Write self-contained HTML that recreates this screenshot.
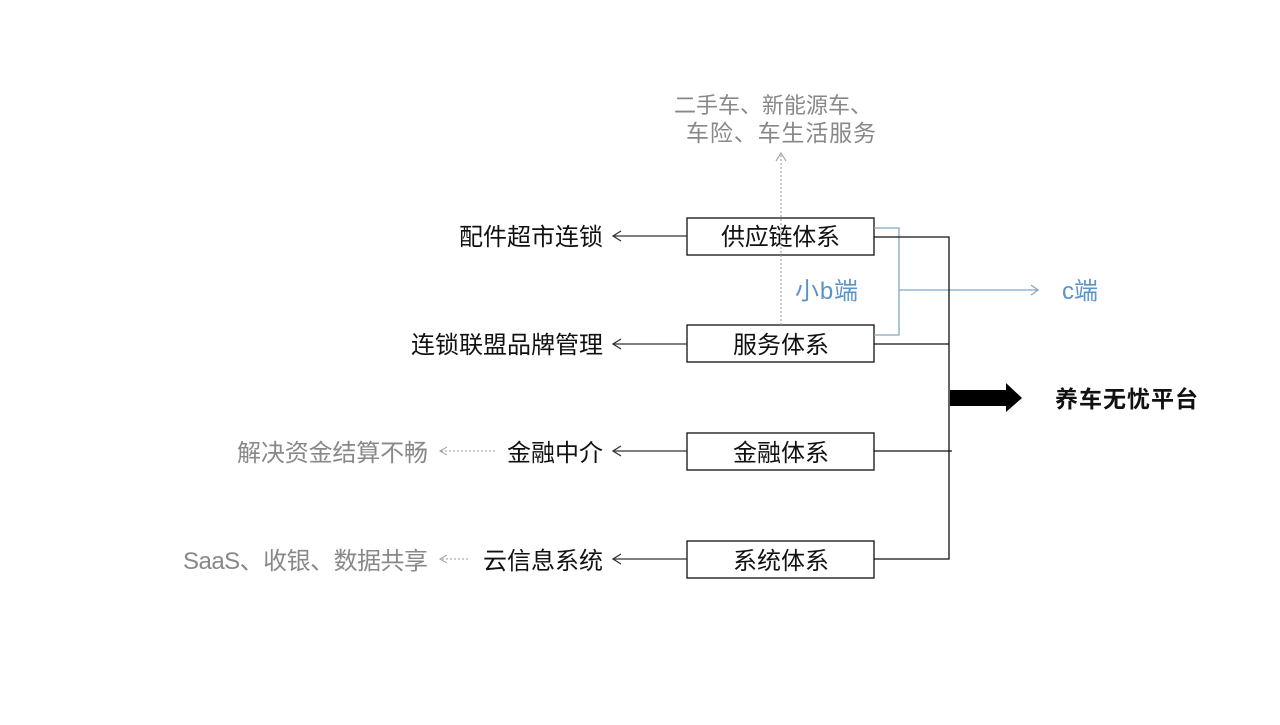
<!DOCTYPE html>
<html><head><meta charset="utf-8"><style>
body{margin:0;background:#fff;}
svg text{font-family:"Liberation Sans","Noto Sans CJK SC",sans-serif;}
</style></head><body>
<svg width="1280" height="720" viewBox="0 0 1280 720" xmlns="http://www.w3.org/2000/svg">
<rect width="1280" height="720" fill="#fff"/>
<g fill="#fff" stroke="#111" stroke-width="1.3">
<rect x="687" y="218" width="187" height="37"/>
<rect x="687" y="325" width="187" height="37"/>
<rect x="687" y="433" width="187" height="37"/>
<rect x="687" y="541" width="187" height="37"/>
</g>
<g font-size="24" fill="#111">
<text x="721" y="245" textLength="119">供应链体系</text>
<text x="733" y="353" textLength="96">服务体系</text>
<text x="733" y="461" textLength="96">金融体系</text>
<text x="733" y="569" textLength="96">系统体系</text>
</g>
<line x1="781" y1="325" x2="781" y2="153" stroke="#999" stroke-width="1" stroke-dasharray="2,2"/>
<polyline points="776,161 781,153 786,161" fill="none" stroke="#999" stroke-width="1"/>
<g fill="#888">
<text x="674" y="113" font-size="22">二手车、新能源车、</text>
<text x="686" y="141" font-size="23" textLength="190">车险、车生活服务</text>
</g>
<polyline points="874,228 899,228 899,335 874,335" fill="none" stroke="#7fa6c8" stroke-width="1.3"/>
<line x1="899" y1="290" x2="1037" y2="290" stroke="#7fa6c8" stroke-width="1.3"/>
<polyline points="1031,285 1038,290 1031,295" fill="none" stroke="#7fa6c8" stroke-width="1.2"/>
<text x="795" y="299" font-size="24" fill="#5b93c6" textLength="63">小b端</text>
<text x="1062" y="299" font-size="24" fill="#5b93c6" textLength="36">c端</text>
<g stroke="#111" stroke-width="1.3" fill="none">
<polyline points="874,237 949,237 949,559 874,559"/>
<line x1="874" y1="344" x2="949" y2="344"/>
<line x1="874" y1="451" x2="952" y2="451"/>
</g>
<polygon points="950,390 1006,390 1006,383 1022,398 1006,412 1006,406 950,406" fill="#000"/>
<text x="1055" y="407" font-size="23" font-weight="bold" fill="#111" textLength="143">养车无忧平台</text>
<g stroke="#333" stroke-width="1.3" fill="none">
<line x1="687" y1="236" x2="613" y2="236"/><polyline points="621,231 613,236 621,241"/>
<line x1="687" y1="344" x2="613" y2="344"/><polyline points="621,339 613,344 621,349"/>
<line x1="687" y1="451" x2="613" y2="451"/><polyline points="621,446 613,451 621,456"/>
<line x1="687" y1="559" x2="613" y2="559"/><polyline points="621,554 613,559 621,564"/>
</g>
<g font-size="24" fill="#111">
<text x="459" y="245" textLength="144">配件超市连锁</text>
<text x="411" y="353" textLength="192">连锁联盟品牌管理</text>
<text x="507" y="461" textLength="96">金融中介</text>
<text x="483" y="569" textLength="120">云信息系统</text>
</g>
<g stroke="#999" stroke-width="1" fill="none">
<line x1="495" y1="451" x2="440" y2="451" stroke-dasharray="2,2"/><polyline points="447,447 440,451 447,455"/>
<line x1="468" y1="559" x2="440" y2="559" stroke-dasharray="2,2"/><polyline points="447,555 440,559 447,563"/>
</g>
<g font-size="24" fill="#888">
<text x="237" y="461" textLength="191">解决资金结算不畅</text>
<text x="183" y="569" textLength="245">SaaS、收银、数据共享</text>
</g>
</svg>
</body></html>
